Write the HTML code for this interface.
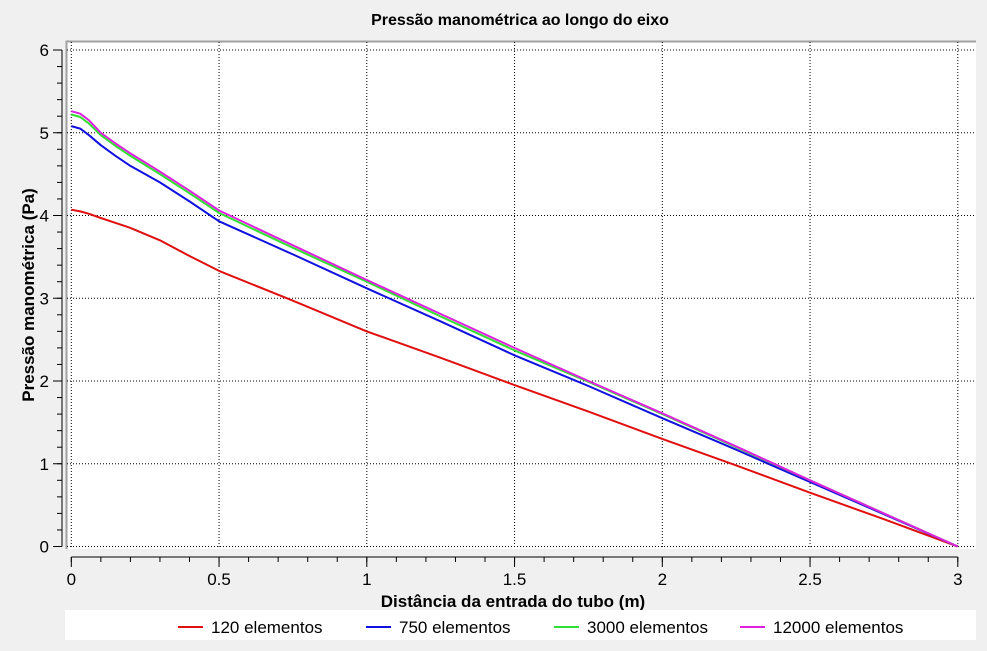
<!DOCTYPE html>
<html><head><meta charset="utf-8">
<style>
body{margin:0;background:#f0f0f0;font-family:"Liberation Sans",Tahoma,sans-serif;}
svg{display:block}
</style></head>
<body>
<svg id="chart" width="987" height="651" xmlns="http://www.w3.org/2000/svg">
<rect x="0" y="0" width="987" height="651" fill="#f0f0f0"/>
<text x="520" y="25" text-anchor="middle" font-size="16" font-weight="bold" fill="#000">Pressão manométrica ao longo do eixo</text>
<rect x="66" y="41" width="910" height="508" fill="#fff"/>
<path d="M66.5 549 V41.5 H976" stroke="#a0a0a0" stroke-width="2" fill="none"/>
<g id="grid"></g>
<g id="yaxis"></g>
<g id="xaxis"></g>
<g id="series"></g>
<text transform="translate(34,295) rotate(-90)" text-anchor="middle" font-size="17" font-weight="bold" fill="#000">Pressão manométrica (Pa)</text>
<text x="513" y="607" text-anchor="middle" font-size="17" font-weight="bold" fill="#000">Distância da entrada do tubo (m)</text>
<rect x="65" y="610" width="911" height="30" fill="#fff"/>
<g id="legend"></g>
</svg>
<script>
const xs = [0,0.03,0.06,0.1,0.15,0.2,0.3,0.4,0.5,0.75,1,1.25,1.5,1.75,2,2.25,2.5,2.75,3];
const red = [4.07,4.05,4.02,3.97,3.91,3.85,3.70,3.51,3.33,2.97,2.60,2.28,1.95,1.63,1.30,0.98,0.65,0.33,0];
const blue = [5.08,5.05,4.97,4.85,4.72,4.60,4.40,4.17,3.93,3.53,3.12,2.72,2.31,1.94,1.55,1.17,0.78,0.39,0];
const green = [5.22,5.19,5.11,4.97,4.84,4.72,4.50,4.27,4.03,3.61,3.20,2.78,2.37,1.99,1.60,1.20,0.80,0.40,0];
const magenta = [5.26,5.23,5.15,5.00,4.87,4.75,4.53,4.30,4.06,3.64,3.22,2.81,2.40,2.00,1.61,1.21,0.80,0.40,0];
const seriesNames = ["120 elementos","750 elementos","3000 elementos","12000 elementos"];
const seriesColors = ["#e01010","#1010e0","#30e030","#e020e0"];
const xTicks = [0,0.5,1,1.5,2,2.5,3];
const xTickLabels = ["0","0.5","1","1.5","2","2.5","3"];
const yTicks = [0,1,2,3,4,5,6];
const yTickLabels = ["0","1","2","3","4","5","6"];

const NS="http://www.w3.org/2000/svg";
const X = v => 71.3 + v*295.5;
const Y = v => 546.5 - v*82.75;
function mk(tag, attrs, parent){const e=document.createElementNS(NS,tag);for(const k in attrs)e.setAttribute(k,attrs[k]);parent.appendChild(e);return e;}
const grid=document.getElementById('grid'), ya=document.getElementById('yaxis'), xa=document.getElementById('xaxis'), sg=document.getElementById('series'), lg=document.getElementById('legend');

xTicks.forEach((t,i)=>{
  const g=mk('line',{x1:X(t),x2:X(t),y1:42,y2:549,stroke:'#000','stroke-dasharray':'1,2','stroke-width':1},grid);
  
  
  const tk=mk('line',{x1:X(t),x2:X(t),y1:557,y2:567,stroke:'#000'},xa);
  
  
  const tx=mk('text',{x:X(t),y:585,'text-anchor':'middle','font-size':17,fill:'#000'},xa);
  tx.textContent=xTickLabels[i];
  
  
});
for(let v=0; v<=3.0001; v+=0.1){
  const m=mk('line',{x1:X(v),x2:X(v),y1:557,y2:562,stroke:'#000'},xa);
  
  
}
const xl=mk('line',{x1:X(0),x2:X(3),y1:557,y2:557,stroke:'#000'},xa);



yTicks.forEach((t,i)=>{
  const g=mk('line',{x1:67,x2:976,y1:Y(t),y2:Y(t),stroke:'#000','stroke-dasharray':'1,2','stroke-width':1},grid);
  
  
  const tk=mk('line',{x1:53,x2:62,y1:Y(t),y2:Y(t),stroke:'#000'},ya);
  
  
  const tx=mk('text',{x:49,y:Y(t)+6,'text-anchor':'end','font-size':17,fill:'#000'},ya);
  tx.textContent=yTickLabels[i];
  
  
});
for(let v=0; v<=6.0001; v+=0.2){
  const m=mk('line',{x1:57,x2:62,y1:Y(v),y2:Y(v),stroke:'#000'},ya);
  
  
}
const yl=mk('line',{x1:62,x2:62,y1:Y(6),y2:Y(0),stroke:'#000'},ya);



[red,blue,green,magenta].forEach((arr,si)=>{
  const d=arr.map((v,i)=>(i?'L':'M')+X(xs[i]).toFixed(1)+' '+Y(v).toFixed(1)).join(' ');
  const p=mk('path',{d:d,fill:'none',stroke:seriesColors[si],'stroke-width':2,'stroke-linejoin':'round'},sg);
  
  
});

const legX=[178,366,554,740];
seriesNames.forEach((n,i)=>{
  const l=mk('line',{x1:legX[i],x2:legX[i]+25,y1:627,y2:627,stroke:seriesColors[i],'stroke-width':2},lg);
  
  
  const t=mk('text',{x:legX[i]+33,y:633,'font-size':17,fill:'#000'},lg);
  t.textContent=n;
  
  
});
</script>
</body></html>
